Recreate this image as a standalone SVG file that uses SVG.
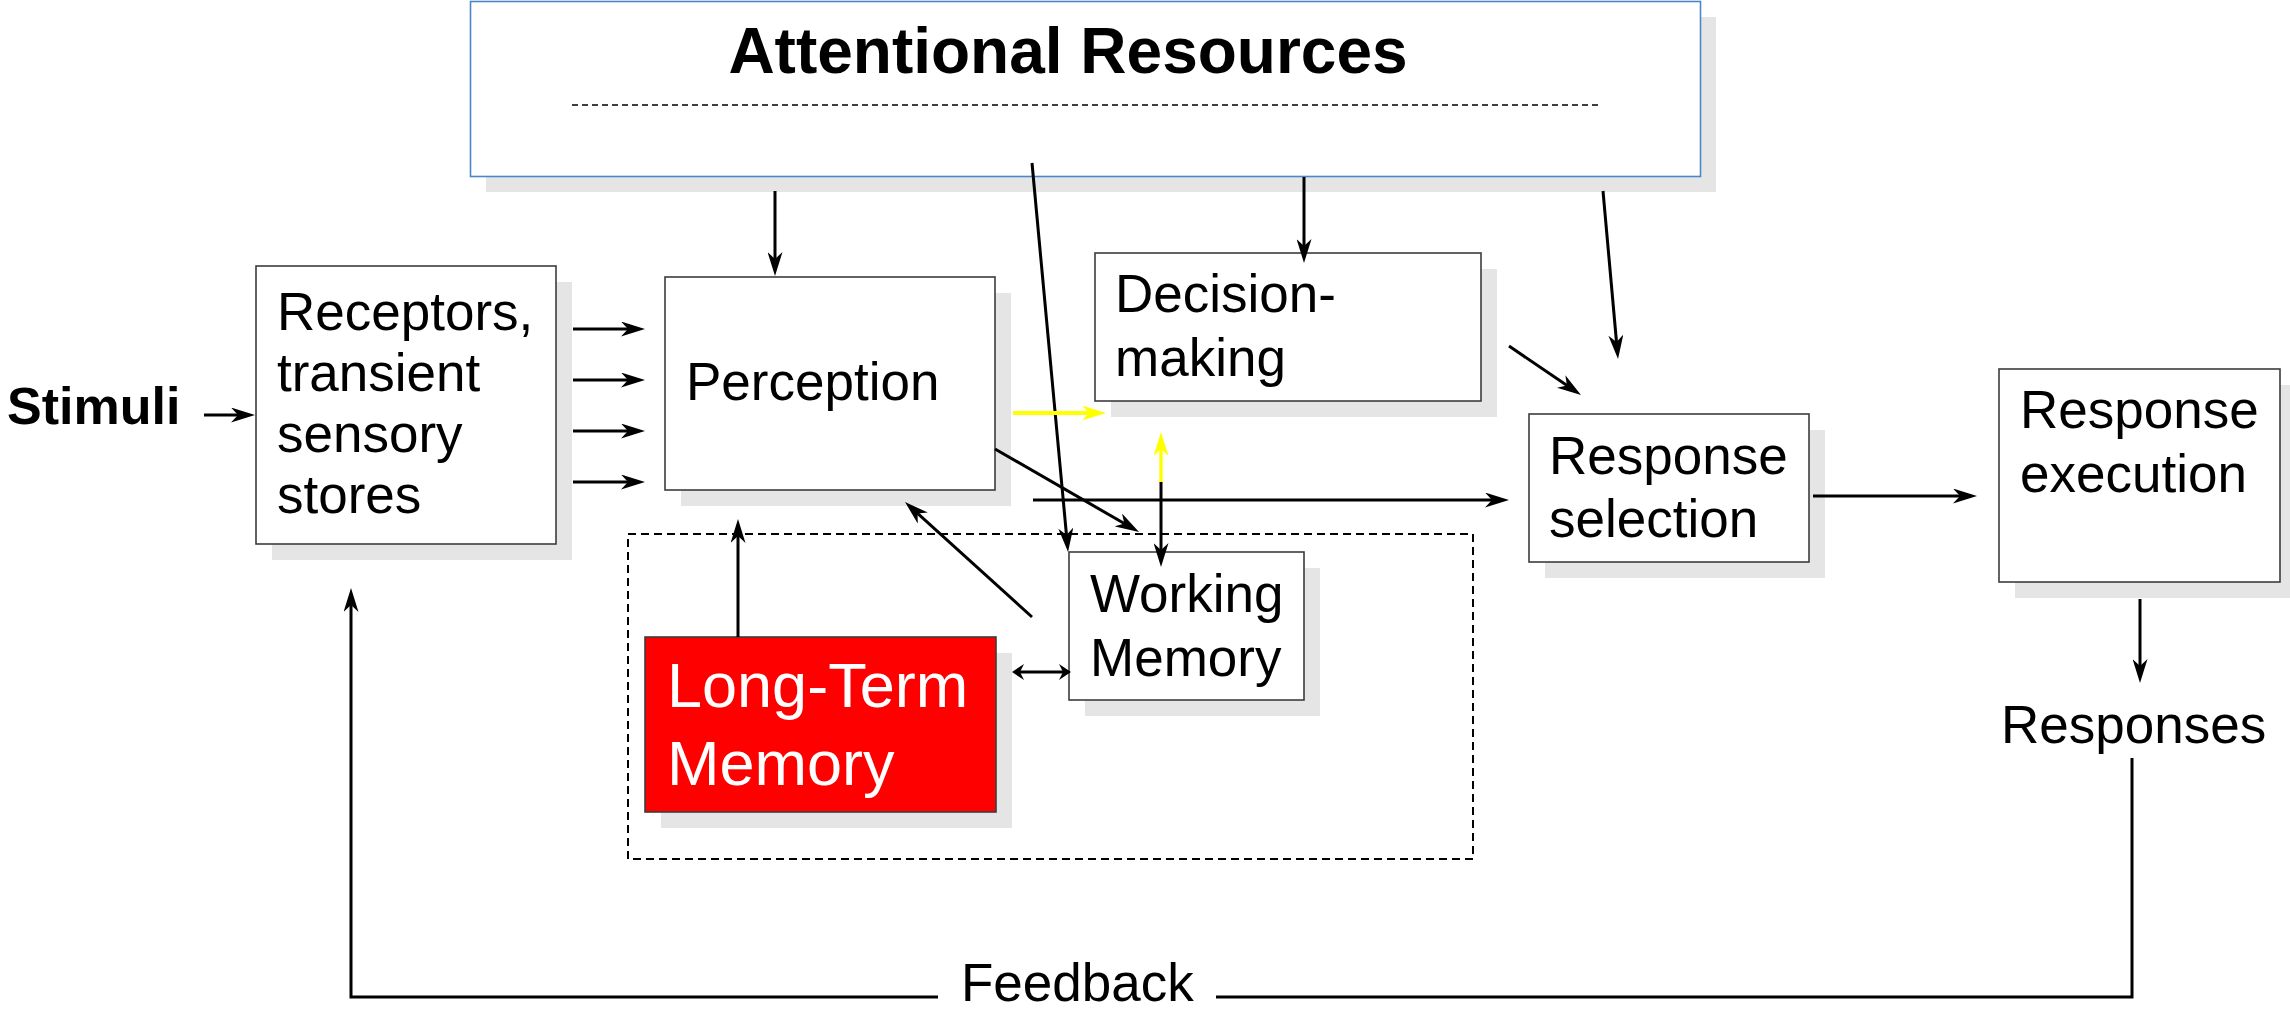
<svg xmlns="http://www.w3.org/2000/svg" width="2290" height="1010" viewBox="0 0 2290 1010">
  <style>
    .shadow { fill: #e5e5e5; }
    .box { fill: #ffffff; stroke: #3c3c3c; stroke-width: 1.6; }
    .lbl { font-family: "Liberation Sans", Arial, sans-serif; font-size: 53px; fill: #000000; }
    .ltm { font-size: 63px; fill: #ffffff; }
    .wire { fill: none; stroke: #000000; stroke-width: 3; }
    .hl { fill: none; stroke: #ffff00; }
  </style>
  <defs>
    <!-- barbed arrowhead; the shaft stops 7px short of the tip -->
    <marker id="ah" viewBox="0 0 24 15" refX="17" refY="7.5" markerWidth="24" markerHeight="15" markerUnits="userSpaceOnUse" orient="auto-start-reverse">
      <path d="M0,0 L24,7.5 L0,15 L7,7.5 z" fill="#000000"/>
    </marker>
    <marker id="ahy" viewBox="0 0 24 15" refX="17" refY="7.5" markerWidth="24" markerHeight="15" markerUnits="userSpaceOnUse" orient="auto-start-reverse">
      <path d="M0,0 L24,7.5 L0,15 L7,7.5 z" fill="#ffff00"/>
    </marker>
    <marker id="ahs" viewBox="0 0 12 16" refX="8" refY="8" markerWidth="12" markerHeight="16" markerUnits="userSpaceOnUse" orient="auto-start-reverse">
      <path d="M0,0 L12,8 L0,16 L4,8 z" fill="#000000"/>
    </marker>
  </defs>

  <rect width="2290" height="1010" fill="#ffffff"/>

  <!-- attentional resources -->
  <g id="attention">
    <rect class="shadow" x="486" y="17" width="1230" height="175"/>
    <rect x="470.5" y="1.5" width="1230" height="175" fill="#ffffff" stroke="#4a86c8" stroke-width="1.6"/>
    <text x="1068" y="73" text-anchor="middle" font-family="Liberation Sans, Arial, sans-serif" font-size="64" font-weight="bold">Attentional Resources</text>
    <line x1="572" y1="105" x2="1602" y2="105" stroke="#000000" stroke-width="1.6" stroke-dasharray="6 4"/>
  </g>

  <!-- memory grouping frame -->
  <g id="memory-frame">
    <rect x="628" y="534" width="845" height="325" fill="none" stroke="#000000" stroke-width="2" stroke-dasharray="8 5"/>
  </g>

  <g id="stimuli">
    <text x="7" y="424" font-family="Liberation Sans, Arial, sans-serif" font-size="52" font-weight="bold">Stimuli</text>
  </g>

  <g id="receptors">
    <rect class="shadow" x="272" y="282" width="300" height="278"/>
    <rect class="box" x="256" y="266" width="300" height="278"/>
    <text class="lbl" x="277" y="330">Receptors,</text>
    <text class="lbl" x="277" y="391">transient</text>
    <text class="lbl" x="277" y="452">sensory</text>
    <text class="lbl" x="277" y="513">stores</text>
  </g>

  <g id="perception">
    <rect class="shadow" x="681" y="293" width="330" height="213"/>
    <rect class="box" x="665" y="277" width="330" height="213"/>
    <text class="lbl" x="686" y="400">Perception</text>
  </g>

  <g id="decision">
    <rect class="shadow" x="1111" y="269" width="386" height="148"/>
    <rect class="box" x="1095" y="253" width="386" height="148"/>
    <text class="lbl" x="1115" y="312">Decision-</text>
    <text class="lbl" x="1115" y="376">making</text>
  </g>

  <g id="working-memory">
    <rect class="shadow" x="1085" y="568" width="235" height="148"/>
    <rect class="box" x="1069" y="552" width="235" height="148"/>
    <text class="lbl" x="1090" y="612">Working</text>
    <text class="lbl" x="1090" y="676">Memory</text>
  </g>

  <g id="long-term-memory">
    <rect class="shadow" x="661" y="653" width="351" height="175"/>
    <rect x="645" y="637" width="351" height="175" fill="#ff0000" stroke="#3c3c3c" stroke-width="1.6"/>
    <text class="lbl ltm" x="667" y="707">Long-Term</text>
    <text class="lbl ltm" x="667" y="785">Memory</text>
  </g>

  <g id="response-selection">
    <rect class="shadow" x="1545" y="430" width="280" height="148"/>
    <rect class="box" x="1529" y="414" width="280" height="148"/>
    <text class="lbl" x="1549" y="474">Response</text>
    <text class="lbl" x="1549" y="537">selection</text>
  </g>

  <g id="response-execution">
    <rect class="shadow" x="2015" y="385" width="281" height="213"/>
    <rect class="box" x="1999" y="369" width="281" height="213"/>
    <text class="lbl" x="2020" y="428">Response</text>
    <text class="lbl" x="2020" y="492">execution</text>
  </g>

  <g id="responses">
    <text class="lbl" x="2001" y="743">Responses</text>
  </g>

  <g id="feedback">
    <text class="lbl" x="961" y="1001">Feedback</text>
  </g>

  <!-- connectors (end points sit 7px before each arrow tip) -->
  <g id="connectors">
    <line class="wire" x1="204" y1="415" x2="248" y2="415" stroke-width="2.4" marker-end="url(#ah)"/>
    <line class="wire" x1="573" y1="329" x2="638" y2="329" stroke-width="4" marker-end="url(#ah)"/>
    <line class="wire" x1="573" y1="380" x2="638" y2="380" stroke-width="4" marker-end="url(#ah)"/>
    <line class="wire" x1="573" y1="431" x2="638" y2="431" stroke-width="4" marker-end="url(#ah)"/>
    <line class="wire" x1="573" y1="482" x2="638" y2="482" stroke-width="4" marker-end="url(#ah)"/>

    <line class="wire" x1="775" y1="191" x2="775" y2="269" marker-end="url(#ah)"/>
    <line class="wire" x1="1032" y1="163" x2="1067.4" y2="545" stroke-width="3.4" marker-end="url(#ah)"/>
    <line class="wire" x1="1304" y1="177" x2="1304" y2="256" marker-end="url(#ah)"/>
    <line class="wire" x1="1603" y1="191" x2="1617.4" y2="352" marker-end="url(#ah)"/>

    <line class="hl" x1="1013" y1="413" x2="1099" y2="413" stroke-width="4" marker-end="url(#ahy)"/>
    <line class="hl" x1="1161" y1="483" x2="1161" y2="439" stroke-width="3.4" marker-end="url(#ahy)"/>
    <line class="wire" x1="1161" y1="482" x2="1161" y2="560" stroke-width="3.4" marker-end="url(#ah)"/>

    <line class="wire" x1="1033" y1="500" x2="1502" y2="500" stroke-width="5" marker-end="url(#ah)"/>
    <line class="wire" x1="995" y1="449" x2="1133" y2="528.5" stroke-width="3.4" marker-end="url(#ah)"/>
    <line class="wire" x1="1032" y1="617" x2="910.2" y2="506.7" stroke-width="3.4" marker-end="url(#ah)"/>
    <line class="wire" x1="738" y1="637" x2="738" y2="526" marker-end="url(#ah)"/>
    <line class="wire" x1="1016" y1="672" x2="1067" y2="672" stroke-width="5" marker-start="url(#ahs)" marker-end="url(#ahs)"/>

    <line class="wire" x1="1509" y1="346" x2="1575.2" y2="391.1" stroke-width="3.4" marker-end="url(#ah)"/>
    <line class="wire" x1="1813" y1="496" x2="1970" y2="496" stroke-width="4.6" marker-end="url(#ah)"/>
    <line class="wire" x1="2140" y1="599" x2="2140" y2="676" stroke-width="2.6" marker-end="url(#ah)"/>

    <polyline class="wire" points="2132,758 2132,997 1216,997" stroke-width="3.4"/>
    <polyline class="wire" points="938,997 351,997 351,595" stroke-width="3.4" marker-end="url(#ah)"/>
  </g>
</svg>
